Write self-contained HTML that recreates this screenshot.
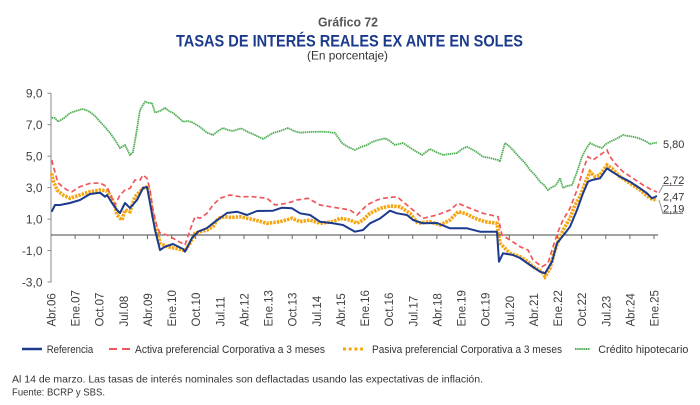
<!DOCTYPE html>
<html>
<head>
<meta charset="utf-8">
<style>
  html, body { margin:0; padding:0; background:#fff; }
  svg { display:block; }
  text { font-family: "Liberation Sans", "DejaVu Sans", sans-serif; }
</style>
</head>
<body>
<svg width="700" height="405" viewBox="0 0 700 405" xmlns="http://www.w3.org/2000/svg">
  <rect x="0" y="0" width="700" height="405" fill="#ffffff"/>

  <!-- Titles -->
  <text x="348" y="26.5" font-size="12.5" font-weight="bold" fill="#555555" text-anchor="middle" textLength="60" lengthAdjust="spacingAndGlyphs">Gráfico 72</text>
  <text x="349.5" y="46.5" font-size="17" font-weight="bold" fill="#1b3a8c" text-anchor="middle" textLength="347" lengthAdjust="spacingAndGlyphs">TASAS DE INTERÉS REALES EX ANTE EN SOLES</text>
  <text x="347.5" y="59.5" font-size="12" fill="#333333" text-anchor="middle" textLength="81" lengthAdjust="spacingAndGlyphs">(En porcentaje)</text>

  <!-- Y axis -->
  <line x1="51" y1="93" x2="51" y2="282.5" stroke="#8a8a8a" stroke-width="1"/>
  <g stroke="#8a8a8a" stroke-width="1">
    <line x1="47.5" y1="93.3" x2="51" y2="93.3"/>
    <line x1="47.5" y1="124.7" x2="51" y2="124.7"/>
    <line x1="47.5" y1="156.2" x2="51" y2="156.2"/>
    <line x1="47.5" y1="187.6" x2="51" y2="187.6"/>
    <line x1="47.5" y1="219.1" x2="51" y2="219.1"/>
    <line x1="47.5" y1="250.5" x2="51" y2="250.5"/>
    <line x1="47.5" y1="282" x2="51" y2="282"/>
  </g>
  <g font-size="12" fill="#404040" text-anchor="end">
    <text x="42.5" y="97.5">9,0</text>
    <text x="42.5" y="129">7,0</text>
    <text x="42.5" y="160.5">5,0</text>
    <text x="42.5" y="192">3,0</text>
    <text x="42.5" y="223.5">1,0</text>
    <text x="42.5" y="255">-1,0</text>
    <text x="42.5" y="286.5">-3,0</text>
  </g>

  <!-- Zero line with ticks -->
  <line x1="51" y1="235" x2="658" y2="235" stroke="#444444" stroke-width="1"/>
  <g stroke="#666666" stroke-width="1">
    <line x1="75.1" y1="235" x2="75.1" y2="239"/>
    <line x1="99.2" y1="235" x2="99.2" y2="239"/>
    <line x1="123.4" y1="235" x2="123.4" y2="239"/>
    <line x1="147.5" y1="235" x2="147.5" y2="239"/>
    <line x1="171.6" y1="235" x2="171.6" y2="239"/>
    <line x1="195.7" y1="235" x2="195.7" y2="239"/>
    <line x1="219.8" y1="235" x2="219.8" y2="239"/>
    <line x1="244" y1="235" x2="244" y2="239"/>
    <line x1="268.1" y1="235" x2="268.1" y2="239"/>
    <line x1="292.2" y1="235" x2="292.2" y2="239"/>
    <line x1="316.3" y1="235" x2="316.3" y2="239"/>
    <line x1="340.4" y1="235" x2="340.4" y2="239"/>
    <line x1="364.6" y1="235" x2="364.6" y2="239"/>
    <line x1="388.7" y1="235" x2="388.7" y2="239"/>
    <line x1="412.8" y1="235" x2="412.8" y2="239"/>
    <line x1="436.9" y1="235" x2="436.9" y2="239"/>
    <line x1="461" y1="235" x2="461" y2="239"/>
    <line x1="485.2" y1="235" x2="485.2" y2="239"/>
    <line x1="509.3" y1="235" x2="509.3" y2="239"/>
    <line x1="533.4" y1="235" x2="533.4" y2="239"/>
    <line x1="557.5" y1="235" x2="557.5" y2="239"/>
    <line x1="581.6" y1="235" x2="581.6" y2="239"/>
    <line x1="605.8" y1="235" x2="605.8" y2="239"/>
    <line x1="629.9" y1="235" x2="629.9" y2="239"/>
    <line x1="654" y1="235" x2="654" y2="239"/>
  </g>

  <!-- X labels (rotated) -->
  <g font-size="11.5" fill="#404040">
    <text transform="translate(55.5,326.5) rotate(-90)">Abr.06</text>
    <text transform="translate(79.6,326.5) rotate(-90)">Ene.07</text>
    <text transform="translate(103.7,326.5) rotate(-90)">Oct.07</text>
    <text transform="translate(127.9,326.5) rotate(-90)">Jul.08</text>
    <text transform="translate(152,326.5) rotate(-90)">Abr.09</text>
    <text transform="translate(176.1,326.5) rotate(-90)">Ene.10</text>
    <text transform="translate(200.2,326.5) rotate(-90)">Oct.10</text>
    <text transform="translate(224.3,326.5) rotate(-90)">Jul.11</text>
    <text transform="translate(248.5,326.5) rotate(-90)">Abr.12</text>
    <text transform="translate(272.6,326.5) rotate(-90)">Ene.13</text>
    <text transform="translate(296.7,326.5) rotate(-90)">Oct.13</text>
    <text transform="translate(320.8,326.5) rotate(-90)">Jul.14</text>
    <text transform="translate(344.9,326.5) rotate(-90)">Abr.15</text>
    <text transform="translate(369.1,326.5) rotate(-90)">Ene.16</text>
    <text transform="translate(393.2,326.5) rotate(-90)">Oct.16</text>
    <text transform="translate(417.3,326.5) rotate(-90)">Jul.17</text>
    <text transform="translate(441.4,326.5) rotate(-90)">Abr.18</text>
    <text transform="translate(465.5,326.5) rotate(-90)">Ene.19</text>
    <text transform="translate(489.7,326.5) rotate(-90)">Oct.19</text>
    <text transform="translate(513.8,326.5) rotate(-90)">Jul.20</text>
    <text transform="translate(537.9,326.5) rotate(-90)">Abr.21</text>
    <text transform="translate(562,326.5) rotate(-90)">Ene.22</text>
    <text transform="translate(586.1,326.5) rotate(-90)">Oct.22</text>
    <text transform="translate(610.3,326.5) rotate(-90)">Jul.23</text>
    <text transform="translate(634.4,326.5) rotate(-90)">Abr.24</text>
    <text transform="translate(658.5,326.5) rotate(-90)">Ene.25</text>
  </g>

  <!-- Series: Crédito hipotecario (green dotted) -->
  <polyline fill="none" stroke="#4faf55" stroke-width="1.8" stroke-dasharray="1.5 0.6"
    points="51.7,117.7 55,118 58,121.7 64,118 70,113 76,111 82,109 86,110 90,112 95,116 100,121.7 105,127 110,133 115,140 120,148 125,145 130,155 133,152 136,135 140,110 145,101.7 149,103 152,103 155,112.7 160,111 165,108 169,111 173,113 178,117 183,121.7 188,121 193,122.7 200,127 207,132.7 213,135 218,131 223,128 228,130 233,131 241,128.3 248,132 255,135 263,139 268,136 273,133 280,131 288,128 294,131 300,132.7 310,132 320,131.7 328,132 335,133 342,143 348,147 355,150 361,147 367,145 372,142 378,140 385,138.3 390,141 395,145 403,143 412,149 422,155 430,149 436,152 443,155 450,154 457,153 462,149 467,146.7 475,151 483,156.7 490,158 498,160 500,161.7 503,150 505,143 509,146 513,150 520,158 525,163 530,170 535,175 540,181.7 544,185 548,190 552,187 555,186 558,182 560,178 563,188 567,186 572,185 577,172 582,156.7 586,149 590,143 596,146 602,148 606,144 610,141.7 616,139 623,135 628,136 633,136.7 638,138 643,140 647,142 650,144 654,143 657,142.7"/>

  <!-- Series: Pasiva (orange dotted thick) -->
  <polyline fill="none" stroke="#f5a50f" stroke-width="3.6" stroke-dasharray="2.4 1.1"
    points="51.7,173.3 53,180 57,190 63,195 70,198.3 80,195 90,191.7 100,190 107,191 112,198.3 115,206.7 117,215 122,220 125,210 130,211.7 135,196.7 143,188.3 148,186.7 150,196.7 153,216.7 157,230 160,243.3 167,246.7 175,248.3 183,250 185,250.7 190,243.3 195,233.3 200,231.7 207,230 213,226.7 218,218.3 225,216.7 232,217.5 240,216.7 255,220 267,223.3 280,221.7 292,218.3 300,221.7 310,220 320,223.3 333,221.7 340,218.3 350,220 357,223.3 363,220 370,213.3 380,208.3 390,206 400,206.7 410,213.3 418,223.3 430,221.7 440,225 450,220 458,211.7 465,213.3 475,218.3 485,221.7 497,223.3 500,243.3 510,253.3 520,256.7 527,261 533,266.7 542,271.7 545,276.7 550,268.3 555,250 560,236.7 565,226.7 570,218.3 575,205 580,196.7 585,183.3 590,171.7 595,176.7 600,175 607,165 612,168.3 620,176.7 630,183.3 640,190 650,198.3 657,200.3"/>

  <!-- Series: Activa (red dashed) -->
  <polyline fill="none" stroke="#f0575c" stroke-width="1.7" stroke-dasharray="5 3"
    points="51.7,160 53,165 58,183 67,190 72,191.7 80,186.7 90,183.3 100,183 107,186.7 112,198.3 115,205 120,195 125,190 130,188.3 135,180 140,180 143,175 147,178.3 150,190 153,210 157,226.7 160,233 167,235 173,238.3 182,243.3 185,245 190,230 195,216.7 200,218.3 207,213.3 213,205 220,198.3 230,195 240,196.7 253,196.7 267,198.3 275,205 287,203.3 297,200 308,198.3 320,205 330,206.7 340,208.3 350,210 357,215 367,205 377,200 383,198.3 397,196.7 407,205 415,211.7 423,218.3 437,215 450,210 458,203.3 470,208.3 483,213.3 498,216.7 502,235 510,240 520,246.7 528,250 533,260 542,266.7 548,263.3 553,246.7 558,231.7 563,220 570,208.3 577,190 583,170 588,156.7 593,160 600,155 607,150 610,156.7 615,163.3 623,171.7 633,178.3 643,185 652,190 657,192"/>

  <!-- Series: Referencia (blue) -->
  <polyline fill="none" stroke="#1c3a8e" stroke-width="2" stroke-linejoin="round"
    points="51.7,211.7 55,205 60,205 70,203 80,200 90,194 100,192.7 105,196.7 107,195 112,203 117,210 120,213 125,203 130,208 137,200 143,188 147,187 150,203 155,230 160,250 165,246.7 173,244 183,249 185,251.7 192,238 198,231.7 207,228 215,221.7 227,213 237,211.7 247,215 257,211 273,210.7 282,207.7 292,208.3 300,213.3 310,215 320,221.7 333,223.3 343,225 355,231.7 363,230 370,223.3 380,218.5 390,210.7 397,213.3 407,215 413,220 423,223.3 437,223 450,228.3 467,228.3 480,231.7 497,231.7 499,261.7 503,253.3 513,255 520,258 530,265 540,271.7 545,273.3 552,261.7 557,243.3 565,233.3 570,226.7 577,210 583,193.3 588,181.7 592,180 600,178.3 607,168.3 612,171.7 620,176.7 630,181.7 640,188.3 647,193.3 652,198.3 657,196"/>

  <!-- End labels -->
  <g stroke="#8a8a8a" stroke-width="0.9" fill="none">
    <polyline points="659,193 663,185.5 683,185.5"/>
    <polyline points="659,200 663,213.5 683,213.5"/>
  </g>
  <g font-size="11" fill="#333333">
    <text x="663" y="148">5,80</text>
    <text x="663" y="184">2,72</text>
    <text x="663" y="200.5">2,47</text>
    <text x="663" y="212.5">2,19</text>
  </g>

  <!-- Legend -->
  <line x1="22" y1="349" x2="42" y2="349" stroke="#1c3a8e" stroke-width="2.5"/>
  <text x="46.7" y="353" font-size="11" fill="#333333" textLength="46.6" lengthAdjust="spacingAndGlyphs">Referencia</text>
  <line x1="109" y1="349" x2="130" y2="349" stroke="#f0575c" stroke-width="2" stroke-dasharray="8 5"/>
  <text x="135" y="353" font-size="11" fill="#333333" textLength="190" lengthAdjust="spacingAndGlyphs">Activa preferencial Corporativa a 3 meses</text>
  <line x1="343" y1="349" x2="363" y2="349" stroke="#f5a50f" stroke-width="3" stroke-dasharray="3 2.7"/>
  <text x="372" y="353" font-size="11" fill="#333333" textLength="190" lengthAdjust="spacingAndGlyphs">Pasiva preferencial Corporativa a 3 meses</text>
  <line x1="575" y1="349" x2="590" y2="349" stroke="#4faf55" stroke-width="2" stroke-dasharray="1.5 0.6"/>
  <text x="598.3" y="353" font-size="11" fill="#333333" textLength="90" lengthAdjust="spacingAndGlyphs">Crédito hipotecario</text>

  <!-- Footnotes -->
  <text x="12" y="382.7" font-size="10.5" fill="#333333" textLength="471" lengthAdjust="spacingAndGlyphs">Al 14 de marzo. Las tasas de interés nominales son deflactadas usando las expectativas de inflación.</text>
  <text x="12" y="395.5" font-size="10.5" fill="#333333" textLength="93" lengthAdjust="spacingAndGlyphs">Fuente: BCRP y SBS.</text>
</svg>
</body>
</html>
